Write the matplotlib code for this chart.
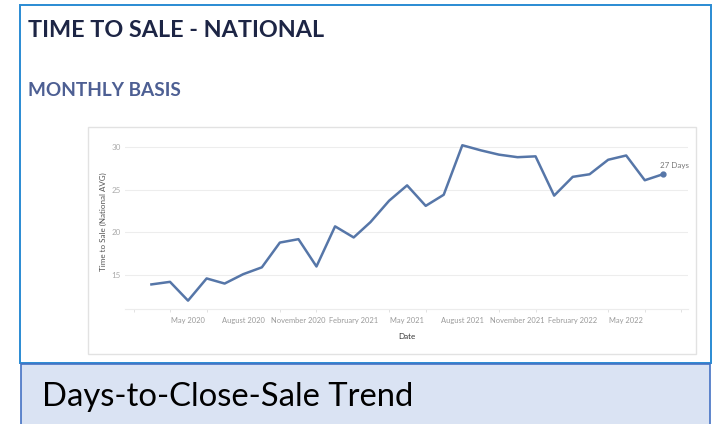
import numpy as np
import pandas as pd
import matplotlib
matplotlib.use("Agg")
import matplotlib.pyplot as plt
import matplotlib.dates as mdates
from matplotlib.patches import Rectangle

# monthly national average time to sale (days), Mar 2020 - Jul 2022
months = pd.date_range("2020-03-01", "2022-07-01", freq="MS")
days_to_sale = [13.9, 14.2, 12.0, 14.6, 14.0, 15.1, 15.9, 18.8, 19.2, 16.0,
                20.7, 19.4, 21.2, 23.7, 25.5, 23.1, 24.4, 30.2, 29.6, 29.1,
                28.8, 28.9, 24.3, 26.5, 26.8, 28.5, 29.0, 26.1, 26.8]
y_ticks = [15, 20, 25, 30]
x_ticks = months[2::3]   # May 2020 ... May 2022
last_label = "27 Days"

title = "TIME TO SALE - NATIONAL"
subtitle = "MONTHLY BASIS"
caption = "Days-to-Close-Sale Trend"

W, H = 716, 424
def fx(x):
    return x / W
def fy(y):
    return 1 - y / H

fig = plt.figure(figsize=(W / 100, H / 100), dpi=100)

# outer blue frame
fig.patches.append(Rectangle((fx(20), fy(363)), fx(711) - fx(20), fy(5) - fy(363),
                             transform=fig.transFigure, facecolor="white",
                             edgecolor="#2a8bd3", linewidth=1.4, zorder=-3))
# caption band
fig.patches.append(Rectangle((fx(21), fy(430)), fx(710) - fx(21), fy(364) - fy(430),
                             transform=fig.transFigure, facecolor="#dae3f3",
                             edgecolor="#4472c4", linewidth=1.2, zorder=-3))
# light grey chart panel
fig.patches.append(Rectangle((fx(88), fy(354)), fx(696) - fx(88), fy(127) - fy(354),
                             transform=fig.transFigure, facecolor="white",
                             edgecolor="#e2e2e2", linewidth=1.0, zorder=-2))

fig.text(fx(28), fy(37), title, fontsize=16.8, fontweight="bold", family="Lato",
         color="#1d2545", va="baseline")
fig.text(fx(28), fy(96), subtitle, fontsize=13.7, fontweight="bold", family="Lato",
         color="#4d5f93", va="baseline")
fig.text(fx(42), fy(406), caption, fontsize=23.6, family="Lato",
         color="#000000", va="baseline")

# plot area
ax = fig.add_axes([fx(125), fy(309), fx(688) - fx(125), fy(135) - fy(309)])
ax.set_facecolor("none")
ax.plot(months, days_to_sale, color="#5676a8", linewidth=1.8, zorder=3)
ax.plot(months[-1], days_to_sale[-1], "o", color="#5676a8", markersize=3.5, zorder=4)
ax.annotate(last_label, (months[-1], days_to_sale[-1]), xytext=(-2, 4.5),
            textcoords="offset points", fontsize=5.8, family="Lato", color="#777777")

ax.set_ylim(11.02, 31.4)
ax.set_xlim(pd.Timestamp("2020-01-17"), pd.Timestamp("2022-08-12"))
ax.set_yticks(y_ticks)
ax.grid(axis="y", color="#ededed", linewidth=0.8)
ax.set_axisbelow(True)
for s in ["top", "right", "left"]:
    ax.spines[s].set_visible(False)
ax.spines["bottom"].set_color("#ececec")
ax.spines["bottom"].set_linewidth(0.8)

ax.set_xticks(x_ticks)
ax.xaxis.set_major_formatter(mdates.DateFormatter("%B %Y"))
ax.xaxis.set_minor_locator(mdates.MonthLocator(bymonth=[2, 4, 6, 8, 10, 12]))
ax.tick_params(axis="x", which="major", length=0, pad=6, labelsize=5.4,
               labelcolor="#9a9a9a")
ax.tick_params(axis="x", which="minor", length=2.5, color="#dddddd")
ax.tick_params(axis="y", length=0, pad=3, labelsize=5.8, labelcolor="#aaaaaa")
for lbl in ax.get_xticklabels() + ax.get_yticklabels():
    lbl.set_family("Lato")

ax.set_ylabel("Time to Sale (National AVG)", fontsize=5.8, family="Lato",
              color="#555555", labelpad=3)
ax.set_xlabel("Date", fontsize=5.8, family="Lato", color="#333333", labelpad=6.5)

fig.savefig("out.png", dpi=100)
